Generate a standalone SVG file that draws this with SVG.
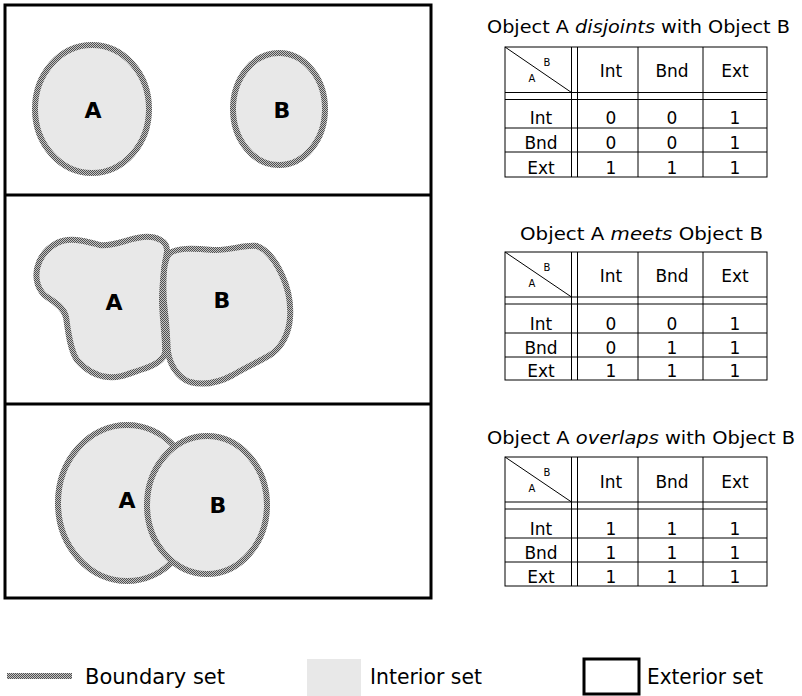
<svg xmlns="http://www.w3.org/2000/svg" width="802" height="696" viewBox="0 0 802 696">
<defs>
<pattern id="dither" width="2" height="2" patternUnits="userSpaceOnUse">
<rect width="2" height="2" fill="#c4c4c4"/>
<rect width="1" height="1" fill="#505050"/>
<rect x="1" y="1" width="1" height="1" fill="#505050"/>
</pattern>
<style>
.set{fill:#e8e8e8;stroke:url(#dither);stroke-width:6;stroke-linejoin:round}
.frame{fill:none;stroke:#000;stroke-width:3}
.lbl{font-family:"DejaVu Sans",Arial,sans-serif;font-weight:bold;font-size:22px;text-anchor:middle;fill:#000}
.tl{fill:none;stroke:#000;stroke-width:1}
.tt{font-family:"DejaVu Sans",Arial,sans-serif;font-size:17px;text-anchor:middle;fill:#000}
.ts{font-family:"DejaVu Sans",Arial,sans-serif;font-size:10px;text-anchor:middle;fill:#000}
.title{font-family:"DejaVu Sans",Arial,sans-serif;font-size:17px;fill:#000}
.leg{font-family:"DejaVu Sans",Arial,sans-serif;font-size:21px;fill:#000}
</style>
</defs>
<rect width="802" height="696" fill="#fff"/>

<g id="frame">
<rect class="frame" x="5" y="5" width="426" height="593"/>
<line class="frame" x1="5" y1="195" x2="431" y2="195"/>
<line class="frame" x1="5" y1="404" x2="431" y2="404"/>
</g>

<g id="panel-disjoint">
<g id="disjoint-A"><ellipse class="set" cx="92" cy="109" rx="57" ry="64"/><text class="lbl" x="93" y="118">A</text></g>
<g id="disjoint-B"><ellipse class="set" cx="279" cy="109" rx="46" ry="56"/><text class="lbl" x="282" y="118">B</text></g>
</g>

<g id="panel-meet">
<g id="meet-A"><path class="set" d="M38,285 C33,270 40,252 57,243 C70,236 88,242 100,245 C112,247 130,238 143,237 C155,236 168,240 167,252 C165,262 162,285 162,300 C162,318 166,340 165,353 C163,362 150,367 140,370 C128,374 120,378 108,377 C95,376 84,368 77,360 C70,350 68,330 66,317 C64,308 55,302 47,297 C42,294 40,290 38,285 Z"/><text class="lbl" x="114" y="310">A</text></g>
<g id="meet-B"><path class="set" d="M170,253 C178,248 190,248 213,250 C230,251 245,244 257,246 C268,250 276,262 282,275 C289,290 291,305 290,318 C289,333 282,346 273,353 C263,360 248,366 233,375 C220,382 205,386 190,382 C178,378 170,365 168,352 C167,340 167,328 165,313 C163,298 163,285 164,270 C165,262 166,256 170,253 Z"/><text class="lbl" x="222" y="308">B</text></g>
</g>

<g id="panel-overlap">
<g id="overlap-A"><ellipse class="set" cx="127" cy="503" rx="69" ry="78"/><text class="lbl" x="127" y="508">A</text></g>
<g id="overlap-B"><ellipse class="set" cx="207" cy="505" rx="60" ry="69"/><text class="lbl" x="218" y="513">B</text></g>
</g>

<g id="table-disjoint">
<text class="title" x="487" y="33" textLength="303" lengthAdjust="spacingAndGlyphs">Object A <tspan font-style="italic">disjoints</tspan> with Object B</text>
<rect class="tl" x="505" y="47" width="262" height="130"/>
<line class="tl" x1="571.5" y1="47" x2="571.5" y2="177"/>
<line class="tl" x1="577.5" y1="47" x2="577.5" y2="177"/>
<line class="tl" x1="638" y1="47" x2="638" y2="177"/>
<line class="tl" x1="703" y1="47" x2="703" y2="177"/>
<line class="tl" x1="505" y1="92.5" x2="767" y2="92.5"/>
<line class="tl" x1="505" y1="99.5" x2="767" y2="99.5"/>
<line class="tl" x1="505" y1="128" x2="767" y2="128"/>
<line class="tl" x1="505" y1="152" x2="767" y2="152"/>
<line class="tl" x1="505" y1="47" x2="571.5" y2="92.5"/>
<text class="ts" x="547" y="66">B</text><text class="ts" x="532" y="82">A</text>
<text class="tt" x="611" y="77">Int</text><text class="tt" x="672" y="77">Bnd</text><text class="tt" x="735" y="77">Ext</text>
<text class="tt" x="541" y="124">Int</text><text class="tt" x="611" y="124">0</text><text class="tt" x="672" y="124">0</text><text class="tt" x="735" y="124">1</text>
<text class="tt" x="541" y="149">Bnd</text><text class="tt" x="611" y="149">0</text><text class="tt" x="672" y="149">0</text><text class="tt" x="735" y="149">1</text>
<text class="tt" x="541" y="174">Ext</text><text class="tt" x="611" y="174">1</text><text class="tt" x="672" y="174">1</text><text class="tt" x="735" y="174">1</text>
</g>

<g id="table-meet">
<text class="title" x="520" y="240" textLength="243" lengthAdjust="spacingAndGlyphs">Object A <tspan font-style="italic">meets</tspan> Object B</text>
<rect class="tl" x="505" y="252" width="262" height="128"/>
<line class="tl" x1="571.5" y1="252" x2="571.5" y2="380"/>
<line class="tl" x1="577.5" y1="252" x2="577.5" y2="380"/>
<line class="tl" x1="638" y1="252" x2="638" y2="380"/>
<line class="tl" x1="703" y1="252" x2="703" y2="380"/>
<line class="tl" x1="505" y1="297" x2="767" y2="297"/>
<line class="tl" x1="505" y1="304" x2="767" y2="304"/>
<line class="tl" x1="505" y1="333" x2="767" y2="333"/>
<line class="tl" x1="505" y1="357" x2="767" y2="357"/>
<line class="tl" x1="505" y1="252" x2="571.5" y2="297"/>
<text class="ts" x="547" y="271">B</text><text class="ts" x="532" y="287">A</text>
<text class="tt" x="611" y="282">Int</text><text class="tt" x="672" y="282">Bnd</text><text class="tt" x="735" y="282">Ext</text>
<text class="tt" x="541" y="330">Int</text><text class="tt" x="611" y="330">0</text><text class="tt" x="672" y="330">0</text><text class="tt" x="735" y="330">1</text>
<text class="tt" x="541" y="354">Bnd</text><text class="tt" x="611" y="354">0</text><text class="tt" x="672" y="354">1</text><text class="tt" x="735" y="354">1</text>
<text class="tt" x="541" y="377">Ext</text><text class="tt" x="611" y="377">1</text><text class="tt" x="672" y="377">1</text><text class="tt" x="735" y="377">1</text>
</g>

<g id="table-overlap">
<text class="title" x="487" y="444" textLength="308" lengthAdjust="spacingAndGlyphs">Object A <tspan font-style="italic">overlaps</tspan> with Object B</text>
<rect class="tl" x="505" y="457" width="262" height="129"/>
<line class="tl" x1="571.5" y1="457" x2="571.5" y2="586"/>
<line class="tl" x1="577.5" y1="457" x2="577.5" y2="586"/>
<line class="tl" x1="638" y1="457" x2="638" y2="586"/>
<line class="tl" x1="703" y1="457" x2="703" y2="586"/>
<line class="tl" x1="505" y1="502" x2="767" y2="502"/>
<line class="tl" x1="505" y1="509" x2="767" y2="509"/>
<line class="tl" x1="505" y1="538" x2="767" y2="538"/>
<line class="tl" x1="505" y1="562" x2="767" y2="562"/>
<line class="tl" x1="505" y1="457" x2="571.5" y2="502"/>
<text class="ts" x="547" y="476">B</text><text class="ts" x="532" y="492">A</text>
<text class="tt" x="611" y="488">Int</text><text class="tt" x="672" y="488">Bnd</text><text class="tt" x="735" y="488">Ext</text>
<text class="tt" x="541" y="535">Int</text><text class="tt" x="611" y="535">1</text><text class="tt" x="672" y="535">1</text><text class="tt" x="735" y="535">1</text>
<text class="tt" x="541" y="559">Bnd</text><text class="tt" x="611" y="559">1</text><text class="tt" x="672" y="559">1</text><text class="tt" x="735" y="559">1</text>
<text class="tt" x="541" y="583">Ext</text><text class="tt" x="611" y="583">1</text><text class="tt" x="672" y="583">1</text><text class="tt" x="735" y="583">1</text>
</g>

<g id="legend">
<g id="legend-boundary"><line x1="7" y1="676" x2="72" y2="676" stroke="url(#dither)" stroke-width="6"/><text class="leg" x="85" y="684" textLength="140" lengthAdjust="spacingAndGlyphs">Boundary set</text></g>
<g id="legend-interior"><rect x="307" y="659" width="54" height="37" fill="#e8e8e8"/><text class="leg" x="370" y="684" textLength="112" lengthAdjust="spacingAndGlyphs">Interior set</text></g>
<g id="legend-exterior"><rect x="584" y="659" width="55" height="35" fill="none" stroke="#000" stroke-width="3"/><text class="leg" x="647" y="684" textLength="116" lengthAdjust="spacingAndGlyphs">Exterior set</text></g>
</g>
</svg>
